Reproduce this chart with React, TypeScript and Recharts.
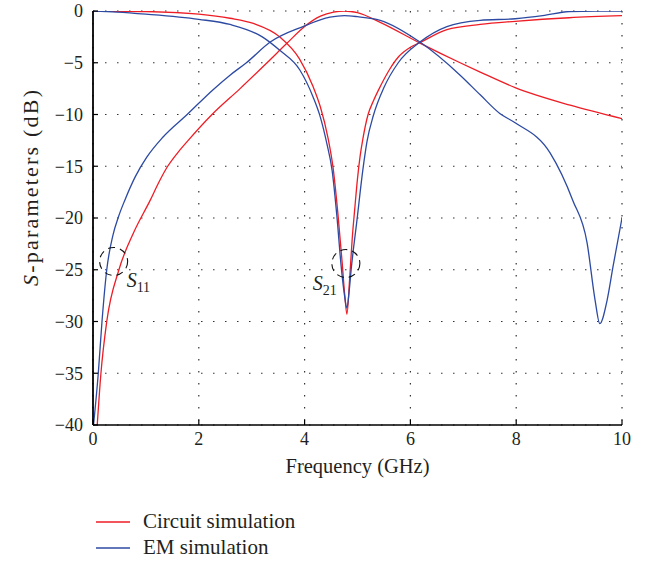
import React from "react"
import { LineChart, Line, XAxis, YAxis, CartesianGrid, ReferenceDot } from "recharts"

// frequency in GHz, magnitude in dB
const circuitS11Freq = [0.08, 0.15, 0.26, 0.49, 0.76, 1.08, 1.25, 1.4, 1.6, 1.8, 2.25, 2.78, 3.29, 3.67, 4.0, 4.3, 4.55, 4.75, 5.0, 5.43, 6.18, 6.94, 7.32, 7.98, 9.02, 10]
const circuitS11Db = [-40, -35, -30, -25, -21.5, -18.3, -16.5, -15.1, -13.7, -12.5, -10, -7.5, -5, -3.1, -1.5, -0.5, -0.1, 0, -0.15, -1.1, -3.1, -5.0, -5.9, -7.4, -9.1, -10.4]

const circuitS21Freq = [0, 1.0, 2.0, 2.59, 3.03, 3.53, 3.9, 4.16, 4.3, 4.44, 4.54, 4.63, 4.71, 4.76, 4.8, 4.85, 4.9, 4.95, 5.0, 5.05, 5.1, 5.2, 5.3, 5.43, 5.6, 5.78, 6.0, 6.18, 6.69, 7.32, 7.98, 9.0, 10]
const circuitS21Db = [0, -0.05, -0.3, -0.7, -1.2, -2.5, -4.6, -7.3, -9.3, -12.2, -15.2, -19.6, -24.3, -27.5, -29.3, -26, -22, -19, -16.2, -14, -12.4, -10, -8.7, -7.3, -5.7, -4.4, -3.5, -3.05, -1.8, -1.3, -1.0, -0.65, -0.45]

const emS11Freq = [0.01, 0.1, 0.17, 0.26, 0.38, 0.48, 0.6, 0.8, 1.02, 1.32, 1.78, 2.27, 2.59, 2.9, 3.35, 3.97, 4.48, 4.75, 5.0, 5.43, 6.18, 6.94, 7.32, 7.69, 7.98, 8.64, 9.07, 9.34, 9.49, 9.58, 9.72, 9.83, 10]
const emS11Db = [-40, -35, -30, -25, -21.6, -19.9, -18.3, -16.0, -14.1, -12.2, -10, -7.6, -6.2, -5.0, -3.0, -1.5, -0.6, -0.45, -0.55, -0.9, -3.0, -6.2, -8.1, -9.9, -10.8, -13.7, -18.3, -22.4, -27.9, -30.2, -27.9, -24.7, -20]

const emS21Freq = [0, 0.45, 1.0, 2.0, 2.59, 3.2, 3.53, 3.91, 4.16, 4.3, 4.42, 4.52, 4.61, 4.69, 4.75, 4.8, 4.84, 4.88, 4.99, 5.1, 5.18, 5.3, 5.5, 5.77, 6.18, 6.69, 7.32, 7.98, 8.5, 9.0, 9.5, 10]
const emS21Db = [0, -0.1, -0.3, -0.8, -1.3, -2.5, -3.8, -5.7, -8.3, -10.3, -12.8, -15.4, -19.8, -24.6, -27.3, -28.7, -27.2, -25, -20.2, -15.4, -12.6, -10.1, -7.4, -5, -3.0, -1.5, -0.9, -0.75, -0.45, -0.05, 0, 0]

const xTicks = [0, 2, 4, 6, 8, 10]
const yTicks = [-40, -35, -30, -25, -20, -15, -10, -5, 0]

// dashed circles marking the S11 / S21 curves
const markFreq = [0.39, 4.78]
const markDb = [-24.2, -24.4]
const markSub = ["11", "21"]

const RED = "#ee1d25"
const BLUE = "#2c4aa2"
const FONT = "Liberation Serif, Tinos, Times New Roman, Times, Nimbus Roman, Noto Serif, FreeSerif, DejaVu Serif, serif"
const TEXT = "#231f20"

const toPoints = (freq: number[], db: number[]) => freq.map((f, i) => ({ f, v: db[i] }))

const series = [
  { name: "Circuit simulation", color: RED, data: toPoints(circuitS11Freq, circuitS11Db) },
  { name: "Circuit simulation", color: RED, data: toPoints(circuitS21Freq, circuitS21Db) },
  { name: "EM simulation", color: BLUE, data: toPoints(emS11Freq, emS11Db) },
  { name: "EM simulation", color: BLUE, data: toPoints(emS21Freq, emS21Db) },
]

const legendItems = [
  { name: "Circuit simulation", color: RED },
  { name: "EM simulation", color: BLUE },
]

const fmtY = (v: number) => (v < 0 ? "\u2212" + Math.abs(v) : String(v))

function Marker(props: any) {
  const { cx, cy, sub } = props
  const left = sub === "11"
  const tx = left ? cx + 13 : cx - 33
  return (
    <g>
      <circle cx={cx} cy={cy} r={14} fill="none" stroke="#111" strokeWidth={1.1} strokeDasharray="7 5" />
      <text x={tx} y={cy + 26} style={{ fontFamily: FONT }} fill={TEXT} fontSize={20} fontStyle="italic">
        S
        <tspan fontSize={14} fontStyle="normal" dy={5}>{sub}</tspan>
      </text>
    </g>
  )
}

function YLabel(props: any) {
  const vb = props.viewBox || { x: 0, y: 11, width: 93, height: 414 }
  const cx = 30
  const cy = vb.y + vb.height / 2 - 30
  return (
    <text
      x={cx}
      y={cy}
      transform={`rotate(-90 ${cx} ${cy})`}
      textAnchor="middle"
      dominantBaseline="central"
      style={{ fontFamily: FONT }}
      fontSize={22}
      fill={TEXT}
      textLength={196}
      lengthAdjust="spacing"
    >
      <tspan fontStyle="italic">S</tspan>-parameters (dB)
    </text>
  )
}

function XLabel(props: any) {
  const vb = props.viewBox || { x: 93, y: 425, width: 529, height: 138 }
  return (
    <text x={vb.x + vb.width / 2} y={vb.y + 48} textAnchor="middle" style={{ fontFamily: FONT }} fontSize={20.5} fill={TEXT}>
      Frequency (GHz)
    </text>
  )
}

const tickStyle = { fontFamily: FONT, fontSize: 18, fill: TEXT, style: { fontFamily: FONT } }

export default function App() {
  return (
    <div style={{ position: "absolute", left: 0, top: 0, width: 652, height: 563, background: "#fff", fontFamily: FONT }}>
      <LineChart width={652} height={563} margin={{ top: 11, right: 30, bottom: 0, left: 0 }} style={{ fontFamily: FONT }}>
        <CartesianGrid xAxisId="b" yAxisId="l" stroke="#333" strokeWidth={1.2} strokeDasharray="1.5 10.5" />
        <XAxis
          xAxisId="b"
          dataKey="f"
          type="number"
          domain={[0, 10]}
          ticks={xTicks}
          allowDataOverflow
          height={138}
          axisLine={{ stroke: "#000", strokeWidth: 1.6 }}
          tickLine={{ stroke: "#000", strokeWidth: 1.2 }}
          tickSize={-5}
          tickMargin={12}
          tick={tickStyle}
          label={{ content: (p: any) => <XLabel {...p} /> }}
        />
        <XAxis
          xAxisId="t"
          orientation="top"
          type="number"
          domain={[0, 10]}
          ticks={xTicks}
          height={0}
          axisLine={{ stroke: "#000", strokeWidth: 1.6 }}
          tickLine={{ stroke: "#000", strokeWidth: 1.2 }}
          tickSize={-5}
          tick={false}
        />
        <YAxis
          yAxisId="l"
          type="number"
          domain={[-40, 0]}
          ticks={yTicks}
          allowDataOverflow
          width={93}
          axisLine={{ stroke: "#000", strokeWidth: 1.8 }}
          tickLine={{ stroke: "#000", strokeWidth: 1.2 }}
          tickSize={-5}
          tickMargin={15}
          tickFormatter={fmtY}
          tick={tickStyle}
          label={{ content: (p: any) => <YLabel {...p} /> }}
        />
        <YAxis
          yAxisId="r"
          orientation="right"
          type="number"
          domain={[-40, 0]}
          ticks={yTicks}
          width={0}
          axisLine={{ stroke: "#000", strokeWidth: 1.8 }}
          tickLine={{ stroke: "#000", strokeWidth: 1.2 }}
          tickSize={-5}
          tick={false}
        />
        {series.map((s, i) => (
          <Line
            key={i}
            xAxisId="b"
            yAxisId="l"
            data={s.data}
            dataKey="v"
            name={s.name}
            type="monotone"
            stroke={s.color}
            strokeWidth={1.3}
            dot={false}
            activeDot={false}
            isAnimationActive={false}
          />
        ))}
        {markFreq.map((f, i) => (
          <ReferenceDot
            key={"m" + i}
            xAxisId="b"
            yAxisId="l"
            x={f}
            y={markDb[i]}
            r={14}
            shape={(p: any) => <Marker {...p} sub={markSub[i]} />}
          />
        ))}
      </LineChart>
      <svg width={652} height={563} style={{ position: "absolute", left: 0, top: 0, pointerEvents: "none" }}>
        {legendItems.map((it, i) => (
          <g key={it.name}>
            <line x1={96} x2={130} y1={522 + i * 26} y2={522 + i * 26} stroke={it.color} strokeWidth={1.3} />
            <text x={143} y={528 + i * 26} style={{ fontFamily: FONT }} fontSize={21} fill={TEXT}>
              {it.name}
            </text>
          </g>
        ))}
      </svg>
    </div>
  )
}
